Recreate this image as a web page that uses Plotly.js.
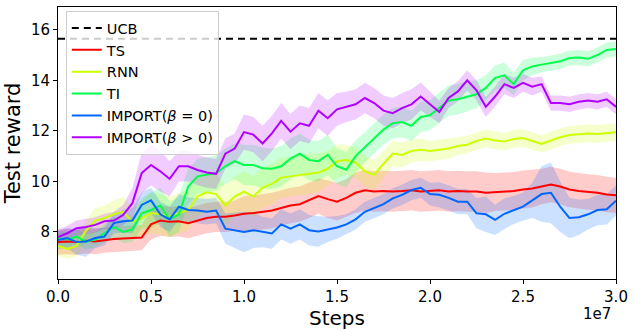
<!DOCTYPE html>
<html>
<head>
<meta charset="utf-8">
<script src="https://cdn.plot.ly/plotly-3.0.1.min.js"></script>
<style>
  html, body { margin: 0; padding: 0; background: #fff; }
  #plot { width: 635px; height: 331px; }
</style>
</head>
<body>
<div id="plot"></div>
<script>
// x grid: training steps, every 0.05e7
const steps = Array.from({ length: 61 }, (_, i) => i * 5e5);

const ucb = 15.64;

const ts = [7.6, 7.62, 7.6, 7.65, 7.62, 7.68, 7.72, 7.74, 7.76, 7.78, 8.3, 8.45, 8.4, 8.42, 8.35, 8.45,
  8.55, 8.6, 8.6, 8.65, 8.72, 8.75, 8.8, 8.85, 8.95, 9.05, 9.1, 9.25, 9.42, 9.3, 9.2, 9.35, 9.55, 9.65,
  9.6, 9.62, 9.6, 9.62, 9.65, 9.6, 9.62, 9.65, 9.6, 9.62, 9.6, 9.6, 9.55, 9.58, 9.6, 9.62, 9.68, 9.72,
  9.8, 9.88, 9.8, 9.68, 9.62, 9.58, 9.55, 9.48, 9.45];
const tsSpread = [0.5, 0.5, 0.5, 0.5, 0.5, 0.5, 0.5, 0.5, 0.5, 0.5, 0.6, 0.6, 0.6, 0.6, 0.6, 0.6,
  0.6, 0.6, 0.6, 0.6, 0.7, 0.7, 0.7, 0.7, 0.7, 0.7, 0.7, 0.7, 0.7, 0.75, 0.75, 0.75, 0.8, 0.8,
  0.8, 0.8, 0.8, 0.8, 0.8, 0.8, 0.8, 0.8, 0.8, 0.8, 0.8, 0.8, 0.8, 0.75, 0.75, 0.75, 0.75, 0.75,
  0.7, 0.7, 0.7, 0.7, 0.7, 0.7, 0.7, 0.7, 0.7];

const rnn = [7.45, 7.33, 7.45, 8.05, 8.45, 8.55, 8.7, 8.8, 8.4, 8.55, 8.75, 8.7, 8.6, 8.75, 8.87, 9.4,
  9.57, 9.5, 9.05, 9.4, 9.6, 9.4, 9.75, 9.9, 10.15, 10.2, 10.25, 10.3, 10.35, 10.5, 10.8, 10.85, 10.75,
  10.4, 10.26, 10.7, 11.1, 11.05, 11.2, 11.25, 11.2, 11.25, 11.3, 11.4, 11.45, 11.6, 11.7, 11.62, 11.58,
  11.68, 11.72, 11.6, 11.48, 11.62, 11.75, 11.84, 11.88, 11.9, 11.88, 11.92, 11.95];
const rnnSpread = [0.4, 0.4, 0.4, 0.45, 0.5, 0.5, 0.55, 0.6, 0.6, 0.7, 0.8, 0.8, 0.8, 0.8, 0.8, 0.8,
  0.8, 0.8, 0.8, 0.8, 0.8, 0.8, 0.8, 0.8, 0.8, 0.8, 0.8, 0.8, 0.75, 0.7, 0.65, 0.6, 0.6,
  0.6, 0.6, 0.55, 0.5, 0.5, 0.45, 0.45, 0.4, 0.4, 0.4, 0.35, 0.35, 0.35, 0.35, 0.35, 0.35,
  0.35, 0.35, 0.35, 0.35, 0.35, 0.35, 0.35, 0.35, 0.35, 0.35, 0.35, 0.35];

const ti = [7.75, 7.7, 7.82, 7.62, 7.7, 7.96, 8.2, 8.0, 8.1, 8.74, 8.87, 9.05, 8.5, 8.7, 9.8, 10.2,
  10.26, 10.33, 10.6, 10.8, 10.65, 10.65, 10.52, 10.5, 10.6, 10.9, 11.1, 10.85, 10.8, 11.05, 10.6, 10.46,
  11.0, 11.35, 11.7, 12.05, 12.3, 12.35, 12.2, 12.55, 12.62, 12.9, 13.2, 13.25, 13.36, 13.45, 13.7, 14.1,
  14.2, 13.85, 14.4, 14.55, 14.62, 14.68, 14.75, 14.88, 14.9, 14.85, 15.0, 15.2, 15.24];
const tiSpread = [0.3, 0.3, 0.3, 0.3, 0.3, 0.35, 0.4, 0.45, 0.5, 0.6, 0.7, 0.7, 0.7, 0.7, 0.7, 0.7,
  0.7, 0.7, 0.7, 0.7, 0.8, 0.8, 0.8, 0.8, 0.8, 0.8, 0.8, 0.8, 0.8, 0.8, 0.7, 0.7,
  0.65, 0.6, 0.6, 0.6, 0.6, 0.6, 0.6, 0.6, 0.6, 0.6, 0.6, 0.6, 0.6, 0.55, 0.5, 0.5,
  0.5, 0.45, 0.4, 0.35, 0.3, 0.3, 0.3, 0.3, 0.3, 0.3, 0.3, 0.3, 0.3];

const importZero = [7.68, 7.76, 7.6, 7.62, 7.76, 7.82, 8.35, 8.42, 8.45, 9.07, 9.25, 8.7, 8.5, 9.0, 8.87, 8.85,
  8.8, 8.85, 8.13, 8.07, 8.0, 8.07, 8.0, 7.94, 8.3, 8.13, 8.3, 8.07, 8.02, 8.1, 8.18, 8.3, 8.5,
  8.8, 8.95, 9.1, 9.33, 9.47, 9.66, 9.75, 9.5, 9.47, 9.35, 9.2, 9.2, 8.74, 8.7, 8.48, 8.72,
  8.87, 9.0, 9.25, 9.5, 9.55, 9.0, 8.55, 8.58, 8.7, 8.87, 8.9, 9.24];
const importZeroSpread = [0.35, 0.4, 0.5, 0.6, 0.4, 0.35, 0.4, 0.45, 0.5, 0.5, 0.5, 0.5, 0.5, 0.5, 0.5, 0.5,
  0.5, 0.5, 0.6, 0.7, 0.8, 0.7, 0.6, 0.6, 0.6, 0.6, 0.6, 0.6, 0.6, 0.5, 0.45, 0.4, 0.4,
  0.4, 0.4, 0.4, 0.4, 0.4, 0.4, 0.4, 0.45, 0.5, 0.5, 0.5, 0.5, 0.6, 0.7, 0.6, 0.6,
  0.55, 0.55, 0.7, 1.1, 1.2, 1.0, 0.8, 0.7, 0.6, 0.6, 0.6, 0.6];

const importPos = [7.8, 7.95, 8.15, 8.2, 8.28, 8.42, 8.45, 8.67, 9.14, 10.33, 10.65, 10.4, 10.1, 10.6, 10.6, 10.45,
  10.35, 10.3, 11.1, 11.3, 11.95, 11.85, 11.5, 11.9, 12.4, 11.97, 12.3, 12.2, 12.8, 12.5, 12.85, 12.95,
  13.05, 13.3, 13.1, 12.8, 12.7, 12.9, 13.05, 13.36, 13.05, 12.75, 13.3, 13.56, 14.0, 13.6, 12.95, 13.36,
  13.85, 13.7, 13.9, 13.75, 13.85, 13.1, 13.1, 13.05, 13.15, 13.2, 13.15, 13.25, 12.95];
const importPosSpread = [0.3, 0.3, 0.3, 0.3, 0.3, 0.3, 0.35, 0.4, 0.6, 0.8, 0.8, 0.8, 0.7, 0.6, 0.6, 0.6,
  0.6, 0.6, 0.6, 0.6, 0.7, 0.7, 0.7, 0.7, 0.7, 0.7, 0.7, 0.7, 0.7, 0.7, 0.65, 0.6,
  0.6, 0.6, 0.6, 0.6, 0.6, 0.6, 0.6, 0.55, 0.5, 0.45, 0.4, 0.4, 0.4, 0.4, 0.4, 0.4,
  0.4, 0.4, 0.35, 0.35, 0.3, 0.3, 0.3, 0.3, 0.3, 0.3, 0.3, 0.3, 0.3];

const xTicks = [0, 5e6, 1e7, 1.5e7, 2e7, 2.5e7, 3e7];
const xTickText = ['0.0', '0.5', '1.0', '1.5', '2.0', '2.5', '3.0'];
const yTicks = [8, 10, 12, 14, 16];

const series = [
  { name: 'TS', y: ts, spread: tsSpread, color: '#ff0000', fill: 'rgba(255,0,0,0.2)' },
  { name: 'RNN', y: rnn, spread: rnnSpread, color: '#ccff00', fill: 'rgba(204,255,0,0.2)' },
  { name: 'TI', y: ti, spread: tiSpread, color: '#00ff4c', fill: 'rgba(0,255,76,0.2)' },
  { name: 'IMPORT(<i>β</i> = 0)', y: importZero, spread: importZeroSpread, color: '#0066ff', fill: 'rgba(0,102,255,0.2)' },
  { name: 'IMPORT(<i>β</i> > 0)', y: importPos, spread: importPosSpread, color: '#b200ff', fill: 'rgba(178,0,255,0.2)' }
];

const data = [];

// shaded bands first so the lines sit on top
series.forEach(s => {
  const upper = s.y.map((v, i) => v + s.spread[i]);
  const lower = s.y.map((v, i) => v - s.spread[i]);
  data.push({
    x: steps.concat(steps.slice().reverse()),
    y: upper.concat(lower.slice().reverse()),
    type: 'scatter',
    mode: 'lines',
    fill: 'toself',
    fillcolor: s.fill,
    line: { width: 0 },
    hoverinfo: 'skip',
    showlegend: false
  });
});

data.push({
  x: [0, 3e7],
  y: [ucb, ucb],
  type: 'scatter',
  mode: 'lines',
  name: 'UCB',
  line: { color: '#000', width: 2, dash: '7px,5px' }
});

series.forEach(s => {
  data.push({
    x: steps,
    y: s.y,
    type: 'scatter',
    mode: 'lines',
    name: s.name,
    line: { color: s.color, width: 2 }
  });
});

const layout = {
  width: 635,
  height: 331,
  margin: { l: 58, r: 19, t: 7, b: 52 },
  paper_bgcolor: '#fff',
  plot_bgcolor: '#fff',
  font: { family: 'DejaVu Sans', color: '#000' },
  showlegend: true,
  legend: {
    x: 0.014, y: 0.985, xanchor: 'left', yanchor: 'top',
    bgcolor: 'rgba(255,255,255,0.8)',
    bordercolor: '#cccccc',
    borderwidth: 1,
    font: { size: 14.5 },
    entrywidth: 165,
    tracegroupgap: 0
  },
  xaxis: {
    range: [0, 3e7],
    tickvals: xTicks,
    ticktext: xTickText,
    tickfont: { size: 15 },
    ticks: 'outside', ticklen: 4, tickcolor: '#000',
    showgrid: false, zeroline: false,
    showline: true, linecolor: '#000', linewidth: 1, mirror: true,
    title: { text: 'Steps', font: { size: 20 }, standoff: 4 }
  },
  yaxis: {
    range: [6.14, 16.9],
    tickvals: yTicks,
    tickfont: { size: 15 },
    ticks: 'outside', ticklen: 4, tickcolor: '#000',
    showgrid: false, zeroline: false,
    showline: true, linecolor: '#000', linewidth: 1, mirror: true,
    title: { text: 'Test reward', font: { size: 21 }, standoff: 4 }
  },
  annotations: [{
    text: '1e7',
    xref: 'paper', yref: 'paper',
    x: 0.995, y: -0.09, xanchor: 'right', yanchor: 'top',
    showarrow: false,
    font: { size: 15 }
  }]
};

Plotly.newPlot('plot', data, layout, { displayModeBar: false, staticPlot: true });
</script>
</body>
</html>
